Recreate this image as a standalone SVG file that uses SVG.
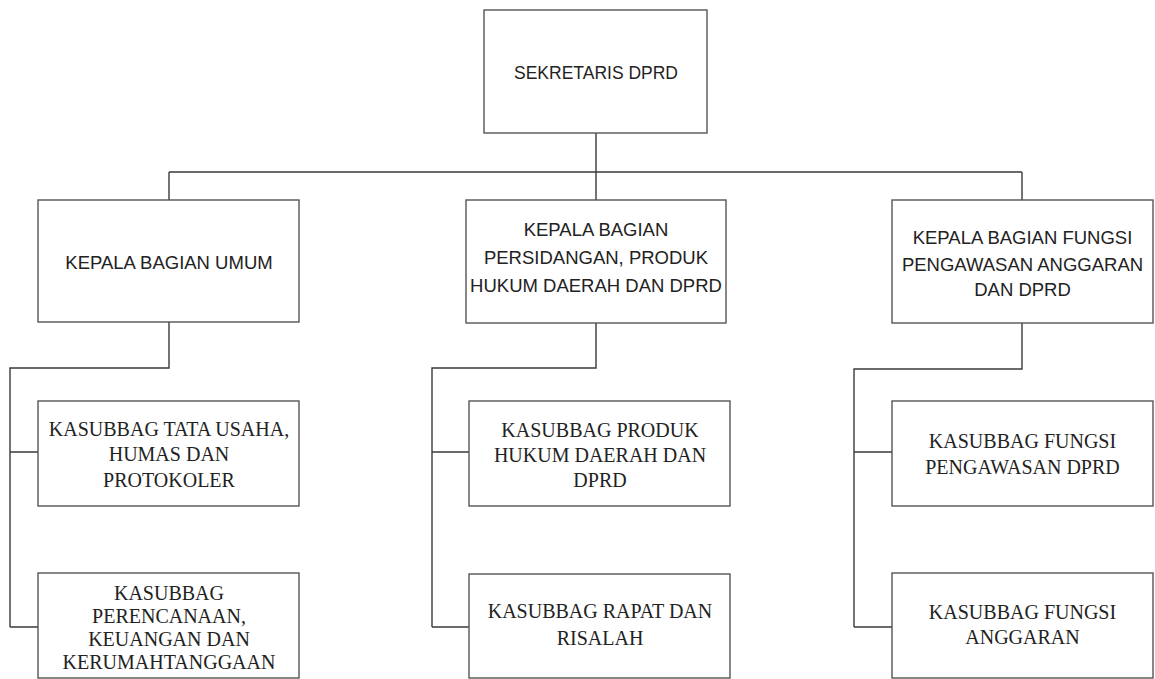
<svg xmlns="http://www.w3.org/2000/svg" width="1155" height="679" viewBox="0 0 1155 679">
<style>
.box{fill:#fff;stroke:#555;stroke-width:1.4}
.con{fill:none;stroke:#3a3a3a;stroke-width:1.4}
.h{font-family:"Liberation Sans",Arial,sans-serif;font-size:18.5px;fill:#222;text-anchor:middle}
.s{font-family:"Liberation Serif","Times New Roman",serif;font-size:20px;fill:#222;text-anchor:middle}
</style>
<rect width="1155" height="679" fill="#fff"/>
<g id="connectors">
<path class="con" d="M596 133V172M169 172H1022M169 172V200M596 172V200M1022 172V200"/>
<path class="con" d="M169 322V368H10V627M10 452H38M10 627H38"/>
<path class="con" d="M596 323V368H432V627M432 452H469M432 627H469"/>
<path class="con" d="M1022 323V369H854V627M854 452H892M854 627H892"/>
</g>
<g id="sekretaris">
<rect class="box" x="484" y="10" width="223" height="123"/>
<text class="h" x="596" y="78.5" style="font-size:17.5px">SEKRETARIS DPRD</text>
</g>
<g id="kabag-umum">
<rect class="box" x="38" y="200" width="261" height="122"/>
<text class="h" x="169" y="268.5">KEPALA BAGIAN UMUM</text>
</g>
<g id="kabag-persidangan">
<rect class="box" x="466" y="200" width="260" height="123"/>
<text class="h" x="596" y="236">KEPALA BAGIAN</text>
<text class="h" x="596" y="264">PERSIDANGAN, PRODUK</text>
<text class="h" x="596" y="292">HUKUM DAERAH DAN DPRD</text>
</g>
<g id="kabag-fungsi">
<rect class="box" x="892" y="200" width="261" height="123"/>
<text class="h" x="1022.5" y="244">KEPALA BAGIAN FUNGSI</text>
<text class="h" x="1022.5" y="270.5">PENGAWASAN ANGGARAN</text>
<text class="h" x="1022.5" y="296">DAN DPRD</text>
</g>
<g id="kasubbag-tu">
<rect class="box" x="38" y="401" width="261" height="105"/>
<text class="s" x="169" y="435.5">KASUBBAG TATA USAHA,</text>
<text class="s" x="169" y="461">HUMAS DAN</text>
<text class="s" x="169" y="487">PROTOKOLER</text>
</g>
<g id="kasubbag-perencanaan">
<rect class="box" x="38" y="573" width="261" height="105"/>
<text class="s" x="169" y="600">KASUBBAG</text>
<text class="s" x="169" y="623">PERENCANAAN,</text>
<text class="s" x="169" y="646">KEUANGAN DAN</text>
<text class="s" x="169" y="669">KERUMAHTANGGAAN</text>
</g>
<g id="kasubbag-produk">
<rect class="box" x="469" y="401" width="261" height="105"/>
<text class="s" x="600" y="437">KASUBBAG PRODUK</text>
<text class="s" x="600" y="462">HUKUM DAERAH DAN</text>
<text class="s" x="600" y="487">DPRD</text>
</g>
<g id="kasubbag-rapat">
<rect class="box" x="469" y="574" width="261" height="104"/>
<text class="s" x="600" y="618">KASUBBAG RAPAT DAN</text>
<text class="s" x="600" y="645">RISALAH</text>
</g>
<g id="kasubbag-pengawasan">
<rect class="box" x="892" y="401" width="261" height="105"/>
<text class="s" x="1022.5" y="448">KASUBBAG FUNGSI</text>
<text class="s" x="1022.5" y="474">PENGAWASAN DPRD</text>
</g>
<g id="kasubbag-anggaran">
<rect class="box" x="892" y="573" width="261" height="105"/>
<text class="s" x="1022.5" y="619">KASUBBAG FUNGSI</text>
<text class="s" x="1022.5" y="644">ANGGARAN</text>
</g>
</svg>
